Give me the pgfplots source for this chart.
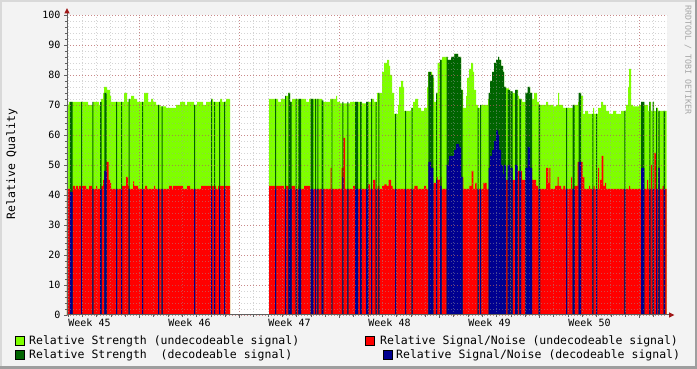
\documentclass[border=0pt]{standalone}
\usepackage{pgfplots}
\pgfplotsset{compat=1.18}
\usepackage{fontspec}
\setmainfont{DejaVu Sans Mono}
\definecolor{lg}{HTML}{7FFF00}
\definecolor{dg}{HTML}{006400}
\definecolor{rd}{HTML}{FF0000}
\definecolor{bl}{HTML}{000090}
\definecolor{bgc}{HTML}{F3F3F3}
\definecolor{mgrid}{HTML}{C04040}
\definecolor{ngrid}{HTML}{A0A0A0}
\definecolor{arr}{HTML}{A01818}
\definecolor{axc}{HTML}{606060}
\begin{document}
\begin{tikzpicture}[x=1pt,y=1pt]
\fill[bgc] (0,0) rectangle (697,369);
\fill[black!15] (0,366.5) rectangle (697,369);
\fill[black!15] (0,0) rectangle (2,369);
\fill[black!38] (0,0) rectangle (697,2.5);
\fill[black!38] (694.5,0) rectangle (697,369);
\begin{axis}[
  at={(67pt,54pt)}, anchor=south west, scale only axis,
  width=600pt, height=300pt,
  xmin=67, xmax=667, ymin=0, ymax=100,
  axis background/.style={fill=white},
  axis on top,
  axis line style={draw=none},
  xtick={139.3,239.3,339.3,439.3,539.3,639.3},
  xticklabels={},
  minor xtick={68,82.2857,...,667},
  ytick={0,10,...,100},
  minor ytick={0,2,...,100},
  grid=both,
  major grid style={mgrid, opacity=0.5, dash pattern=on 1pt off 2pt, line width=0.8pt},
  minor grid style={ngrid, opacity=0.45, dash pattern=on 1pt off 2pt, line width=0.8pt},
  xtick pos=bottom, ytick pos=left,
  tick align=outside,
  major tick length=3pt, minor tick length=2pt,
  tick style={axc, line width=0.7pt},
  /pgf/number format/assume math mode=true,
  yticklabel style={font=\fontsize{10}{10}\selectfont, text=black},
  extra x ticks={89.5,189.5,289.5,389.5,489.5,589.5},
  extra x tick labels={Week 45,Week 46,Week 47,Week 48,Week 49,Week 50},
  extra x tick style={major tick length=0pt, grid=none,
     xticklabel style={font=\fontsize{10}{10}\selectfont, text=black}},
]
% strength envelope (undecodeable)
\addplot[const plot, fill=lg, draw=none] coordinates {
(67,70)(69,71)(88,70)(93,71)(99,70)(101,72)(103,74)(104,76)(107,75)(110,73)(111,71)(124,74)(127,71)(129,72)(131,73)(134,72)(137,71)(144,74)(148,71)(151,72)(153,71)(156,70)(160,69.5)(166,69)(176,70)(180,71)(185,70)(187,71)(194,70)(197,71)(203,70)(206,71)(211,72)(213,71)(220,72)(222,71)(226,72)(230,0)
(269,72)(278,71)(281,72)(285,73)(288,74)(290,71)(292,72)(306,71)(309,72)(322,71)(330,72)(336,73)(337,71)(340,70.5)(350,71)(362,70.5)(366,71)(371,72)(374,71)(377,74)(382,81)(384,84)(387,85)(389,83)(390,80)(392,74)(394,67)(398,70)(399,76)(401,78)(403,76)(404,68)(411,69)(413,71)(415,72)(418,69)(421,68)(424,69)(427,76)(428,81)(432,80)(433,79)(434,71)(436,74)(437.5,84)(440,85)(442,86)(447.7,85)(451,86)(454.3,87)(458,86)(461,75)(463,69)(466,73)(467,79)(469,82)(471,84)(473,81)(474,75)(476,70)(478,69)(481,70)(488,72)(489,74)(490,78)(492,81)(494,84)(496,85)(498,86)(499,85)(501,83)(503,81)(504,76)(506,75.5)(509,74.5)(512,74)(516,75)(518,73)(519,72)(522,71)(526,74)(528,76)(530,74)(532,72)(534,74)(537,71)(539,70)(546,71)(548,70)(553,69.5)(556,70)(558,74)(559,70)(563,69)(573,70)(578,71)(579,74)(581,73)(583,67)(585,68)(588,67)(593,69)(594,67)(598,69)(601,71)(603,70)(606,68)(609,67)(613,68)(616,67)(621,68)(626,70)(628,76)(629,82)(631,70)(633,69.5)(639,70)(641,71)(644,70)(648,68)(649,71)(651,68)(653,71)(654,68)(656,69)(658,68)(666.7,0)
} \closedcycle;
% S/N envelope (undecodeable)
\addplot[const plot, fill=rd, draw=none] coordinates {
(67,42)(73,43)(75,42)(76,43)(78,42)(79,43)(86,42)(89,43)(92,42)(96,43)(97,42)(101,43)(103,45)(104,48)(106,51)(108.7,45)(110,44)(111,42)(122,43)(126,46)(128,43)(129,42)(133,44.5)(134,43)(138,42)(145,43)(147,42)(154,43)(155,42)(169,43)(172,42)(173,43)(183,42)(187,43)(190,42)(201,43)(216,42)(218,43)(230,0)
(269,43)(284,42)(286,43)(295,42)(298,43)(299,42)(304,43)(310,42)(330.5,49)(331.5,42)(341.5,49)(343.3,59)(345,42)(353,43)(355,42)(368,43.5)(370,42)(373,45)(375.3,42)(377.7,43)(379.3,42)(382,43)(384.3,43.5)(386.7,43)(388.7,45)(391,43)(392.5,42)(414.3,43)(417.7,42)(424,43)(426,42)(433.3,44)(436,46)(437.7,45)(440,46)(441.7,42)(462.7,46)(463.3,42)(469.3,43)(471.7,48)(473.3,42)(475,44)(476.7,42)(483.3,44)(486.7,42)(504,45)(517.7,48)(522,45)(526,49)(532,45)(536,43)(538,42)(546,49)(548.3,44)(549.3,49)(550.3,42)(555,43)(557.7,46)(558.7,43)(561,42)(563.3,43)(565,42)(571,46)(572,42)(574,43)(577.7,51)(582.7,46)(584.3,42)(589,43)(590,42)(593.5,43)(594.5,42)(598,49)(599,42)(600,45)(601.7,53)(603.3,43)(605,44)(606,42)(629,43)(630,42)(647,45)(648,42)(651,50)(652,42)(654.3,54)(656,42)(658.3,49)(659.7,42)(662.7,43)(664,42)(666.7,0)
} \closedcycle;
% strength (decodeable)
\addplot[const plot, fill=dg, draw=none] coordinates {
(67,0)(70,71)(72.7,0)(81,71)(82,0)(92.3,71)(93.3,0)(100,71)(101.7,0)(104.3,74)(106.7,0)(116,71)(117,0)(121,71)(122,0)(128.7,72)(129.7,0)(142,71)(143,0)(158,70)(159,0)(161.7,69.5)(162.7,0)(194,70)(195,0)(211,72)(212,0)(214,71)(215,0)(219,71)(220,0)(224,71)(225,0)
(275,72)(276,0)(285,73)(286,0)(288.3,74)(290,71)(291.7,0)(295.5,72)(296.5,0)(298.3,72)(301,0)(310.7,72)(313.3,0)(315,72)(316,0)(317.3,72)(318.3,0)(321.7,71.5)(323.3,0)(331.5,72)(332.3,0)(342.3,71)(343.3,0)(347.3,71)(348.3,0)(355,71)(358,0)(360,71)(361.7,0)(366,71)(368.3,0)(371,72)(372,0)(375.7,71)(376.7,0)(378.3,74)(379.3,0)(395,67)(396,0)(405,68)(406,0)(411.5,69)(412.5,0)(428.3,81)(431,80)(433.3,0)(436,74)(437,0)(440,85)(441.7,0)(446.7,86)(447.7,85)(451,86)(454.3,87)(458,86)(461,75)(462.7,0)(477.7,69)(478.7,0)(480,70)(481,0)(488.7,74)(490,78)(492,81)(494,84)(496,85)(498,86)(499,85)(501,83)(503,81)(504,76)(506,0)(507.7,75)(510,0)(510.7,74.5)(512.7,0)(515,75)(517.7,0)(519.3,72)(521,0)(525.3,74)(527.7,76)(530,74)(532,0)(538.7,70)(540,0)(566,69)(567,0)(572.7,70)(574.7,0)(578.7,74)(581,0)(592.3,67)(593.3,0)(596,67)(597,0)(624.3,68)(625.3,0)(641,71)(644.3,0)(649.3,71)(650.3,0)(652.7,71)(653.7,0)(656,69)(657,0)(658.3,68)(659.7,0)(663.7,68)(665,0)(667,0)
} \closedcycle;
% S/N (decodeable)
\addplot[const plot, fill=bl, draw=none] coordinates {
(67,0)(70,41)(72.7,0)(81,42)(82,0)(92.3,42)(93.3,0)(100,42)(101.7,0)(104.3,48)(106.7,0)(116,42)(117,0)(121,42)(122,0)(128.7,42)(129.7,0)(142,42)(143,0)(158,42)(159,0)(161.7,42)(162.7,0)(194,42)(195,0)(211,42)(212,0)(214,42)(215,0)(219,42)(220,0)(224,42)(225,0)
(275,42)(276,0)(285,42)(286,0)(288.3,42)(291.7,0)(295.5,42)(296.5,0)(298.3,42)(301,0)(310.7,42)(313.3,0)(315,42)(316,0)(317.3,42)(318.3,0)(321.7,42)(323.3,0)(331.5,42)(332.3,0)(342.3,46)(343.3,0)(347.3,42)(348.3,0)(355,42)(358,0)(360,42)(361.7,0)(366,42)(368.3,0)(371,42)(372,0)(375.7,42)(376.7,0)(378.3,42)(379.3,0)(395,42)(396,0)(405,42)(406,0)(411.5,42)(412.5,0)(428.3,51)(431,49)(433.3,0)(436,45)(437,0)(440,43)(441.7,0)(446.7,50)(448.7,51)(449,53)(454,55)(456,57)(459,56)(461,46)(462.7,0)(477.7,42)(478.7,0)(480,42)(481,0)(488.7,49)(490,53)(492,55)(494,58)(496,61.5)(498,60)(499,55)(501,50)(503,47)(504,50)(506,0)(507.7,50)(510,0)(510.7,49)(512.7,0)(515,50)(517.7,0)(519.3,48)(521,0)(525.3,49)(527.7,56)(530,49)(532,0)(538.7,42)(540,0)(566,42)(567,0)(572.7,42)(574.7,0)(578.7,51)(581,0)(592.3,42)(593.3,0)(596,42)(597,0)(624.3,42)(625.3,0)(641,49)(644.3,0)(649.3,42)(650.3,0)(652.7,42)(653.7,0)(656,42)(657,0)(658.3,49)(659.7,0)(663.7,42)(665,0)(667,0)
} \closedcycle;
\end{axis}
% axes with arrows
\draw[axc, line width=1pt] (67,54) -- (67,356);
\draw[axc, line width=1pt] (67,54) -- (669.5,54);
\fill[arr] (64.3,355.5) -- (69.7,355.5) -- (67,360.8) -- cycle;
\fill[arr] (669,51.3) -- (669,56.7) -- (674.3,54) -- cycle;
% labels
\node[rotate=90, font=\fontsize{11.5}{12}\selectfont] at (12,205) {Relative Quality};
\node[rotate=-90, font=\fontsize{8.3}{9}\selectfont, text=black!35] at (688,309) {RRDTOOL / TOBI OETIKER};
% legend
\tikzset{lt/.style={anchor=west, font=\fontsize{11.5}{12}\selectfont, inner sep=0pt}}
\filldraw[fill=lg, draw=black, line width=0.7pt] (15.5,23.5) rectangle (24.5,32.5);
\node[lt] at (29,28) {Relative Strength (undecodeable signal)};
\filldraw[fill=dg, draw=black, line width=0.7pt] (15.5,9.5) rectangle (24.5,18.5);
\node[lt] at (29,14) {Relative Strength\ \ (decodeable signal)};
\filldraw[fill=rd, draw=black, line width=0.7pt] (365.5,23.5) rectangle (374.5,32.5);
\node[lt] at (380,28) {Relative Signal/Noise (undecodeable signal)};
\filldraw[fill=bl, draw=black, line width=0.7pt] (383.5,9.5) rectangle (392.5,18.5);
\node[lt] at (396,14) {Relative Signal/Noise (decodeable signal)};
\pgfresetboundingbox
\path[use as bounding box] (0,0) rectangle (697,369);
\end{tikzpicture}
\end{document}
